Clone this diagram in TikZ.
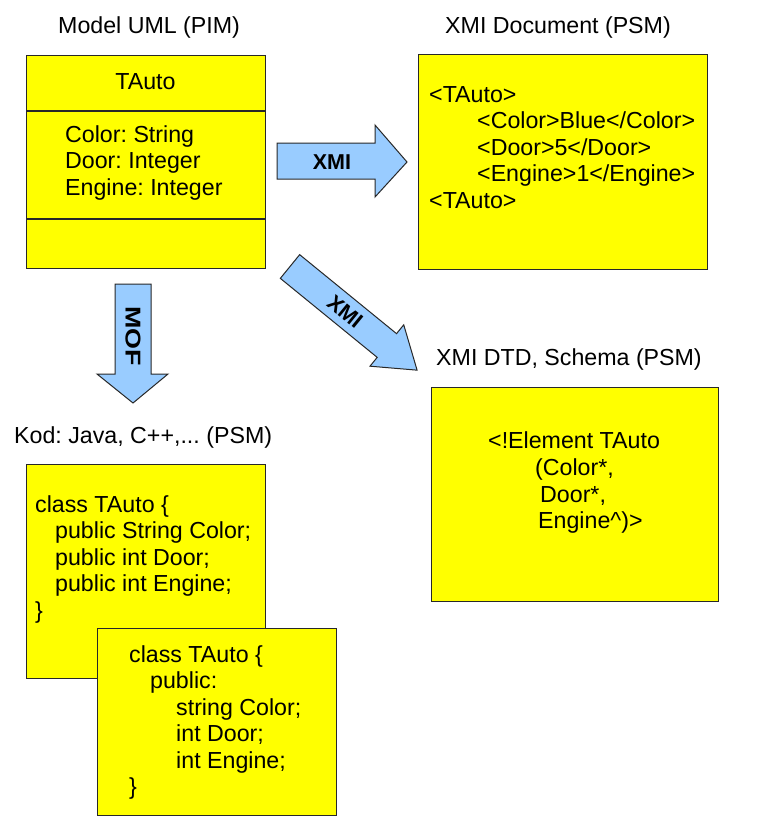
\documentclass[tikz,border=0pt]{standalone}
\usepackage{fontspec}
\setmainfont{Liberation Sans}
\definecolor{boxyellow}{RGB}{255,255,0}
\definecolor{arrowblue}{RGB}{153,204,255}
\definecolor{edgegray}{RGB}{40,40,40}
\begin{document}
\frenchspacing
\begin{tikzpicture}[x=1pt,y=-1pt,
  box/.style={draw=edgegray, fill=boxyellow, line width=1.3pt, inner sep=0pt, anchor=north west},
  divider/.style={draw=edgegray, line width=1.3pt},
  blockarrow/.style={draw=edgegray, fill=arrowblue, line width=1pt, line join=miter},
  txt/.style={anchor=base west, inner sep=0pt, font=\fontsize{23.2}{26.5}\selectfont},
  ctxt/.style={anchor=base, inner sep=0pt, font=\fontsize{23.2}{26.5}\selectfont},
  lbl/.style={inner sep=0pt, font=\bfseries\fontsize{21.5}{21.5}\selectfont}]
\useasboundingbox[fill=white] (0,0) rectangle (759,831);

% ---------- UML model ----------
\node[txt] (t1) at (58,33) {Model UML (PIM)};
\node[box, minimum width=239pt, minimum height=213pt] (uml) at (26,55) {};
\draw[divider] (26,111) -- (265,111);
\draw[divider] (26,219) -- (265,219);
\node[ctxt] (umlname) at (145.5,89) {TAuto};
\node[txt] (a1) at (65,142) {Color: String};
\node[txt] (a2) at (65,168.5) {Door: Integer};
\node[txt] (a3) at (65,195) {Engine: Integer};

% ---------- XMI document ----------
\node[txt] (t2) at (445,33) {XMI Document (PSM)};
\node[box, minimum width=289pt, minimum height=215pt] (xmidoc) at (418,54) {};
\node[txt] (x1) at (429,102) {<TAuto>};
\node[txt] (x2) at (477,128.5) {<Color>Blue</Color>};
\node[txt] (x3) at (477,155) {<Door>5</Door>};
\node[txt] (x4) at (477,181.5) {<Engine>1</Engine>};
\node[txt] (x5) at (429,208) {<TAuto>};

% ---------- XMI DTD ----------
\node[txt] (t3) at (436,365) {XMI DTD, Schema (PSM)};
\node[box, minimum width=287pt, minimum height=214pt] (dtd) at (431,387) {};
\node[txt] (d1) at (488,448) {<!Element TAuto};
\node[txt] (d2) at (535,475) {(Color*,};
\node[txt] (d3) at (540,502) {Door*,};
\node[txt] (d4) at (538,528.5) {Engine\^{})>};

% ---------- Code ----------
\node[txt] (t4) at (14,443) {Kod: Java, C++,... (PSM)};
\node[box, minimum width=239pt, minimum height=214pt] (java) at (26,464) {};
\node[txt] (j1) at (35,512) {class TAuto \{};
\node[txt] (j2) at (55,538.5) {public String Color;};
\node[txt] (j3) at (55,565) {public int Door;};
\node[txt] (j4) at (55,591.5) {public int Engine;};
\node[txt] (j5) at (35,618) {\}};

\node[box, minimum width=239pt, minimum height=187pt] (cpp) at (97,628) {};
\node[txt] (c1) at (129,662) {class TAuto \{};
\node[txt] (c2) at (150,688.5) {public:};
\node[txt] (c3) at (176,715) {string Color;};
\node[txt] (c4) at (176,741.5) {int Door;};
\node[txt] (c5) at (176,768) {int Engine;};
\node[txt] (c6) at (129,794.5) {\}};

% ---------- block arrows ----------
% horizontal XMI
\draw[blockarrow] (277,143) -- (375,143) -- (375,125) -- (407,162)
  -- (375,197) -- (375,179) -- (277,179) -- cycle;
\node[lbl] (lx) at (332,162) {XMI};

% vertical MOF
\draw[blockarrow] (115,284) -- (151,284) -- (151,374) -- (168,374)
  -- (133,403) -- (97,374) -- (115,374) -- cycle;
\node[lbl, rotate=-90, xscale=1.25] (lm) at (133,336) {MOF};

% diagonal XMI
\begin{scope}[shift={(290,266.5)}, rotate=-39.2]
  \draw[blockarrow] (0,-15.3) -- (125,-15.3) -- (125,-26.7) -- (164,0)
    -- (125,26.7) -- (125,15.3) -- (0,15.3) -- cycle;
  \node[lbl, rotate=-39.2] (ld) at (71,0) {XMI};
\end{scope}
\end{tikzpicture}
\end{document}
